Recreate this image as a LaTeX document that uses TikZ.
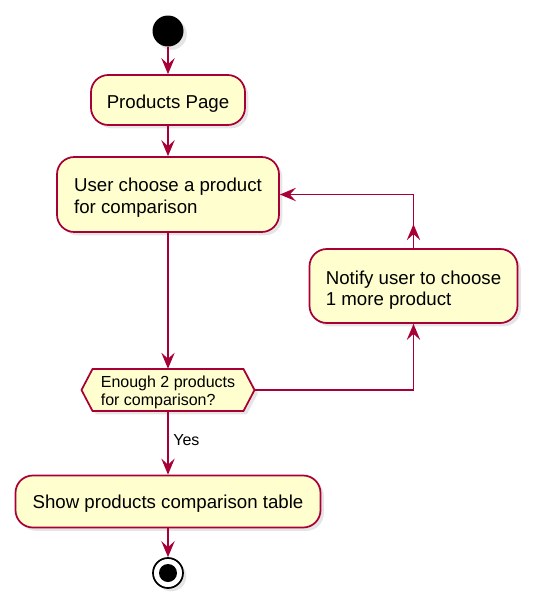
\documentclass[tikz,border=0pt]{standalone}
\usepackage{fontspec}
\setmainfont{Liberation Sans}
\usetikzlibrary{positioning,shadows,arrows.meta}
\definecolor{UMLRed}{HTML}{A80036}
\definecolor{UMLPale}{HTML}{FEFECE}
\newcommand{\lowtext}[2]{\raisebox{-#1}[\height][\depth]{\begin{tabular}{@{}l@{}}#2\end{tabular}}}

\begin{document}
\begin{tikzpicture}[x=0.75pt,y=-0.75pt,>={Stealth[length=12pt,width=10pt,inset=4.5pt]}]
  \tikzstyle{actbox}=[draw=UMLRed,fill=UMLPale,line width=1.3pt,rounded corners=13pt,
    inner sep=0pt,align=left,font=\fontsize{14}{16.3}\selectfont,
    drop shadow={shadow xshift=2.5pt,shadow yshift=-2.5pt,fill=black!20}]
  \tikzstyle{decbox}=[draw=UMLRed,fill=UMLPale,line width=1.3pt,
    drop shadow={shadow xshift=2.5pt,shadow yshift=-2.5pt,fill=black!20}]
  \tikzstyle{dectext}=[inner sep=0pt,minimum width=129.75pt,minimum height=31.5pt,
    align=left,font=\fontsize{12}{13.5}\selectfont]
  \tikzstyle{flow}=[->,draw=UMLRed,line width=1.3pt]
  \useasboundingbox (0,0) rectangle (538,615);

  \node[circle,fill=black,minimum size=23.25pt,inner sep=0pt,
    drop shadow={shadow xshift=2.5pt,shadow yshift=-2.5pt,fill=black!20}] (start) at (168,31) {};
  \node[actbox,minimum width=115.5pt,minimum height=37.5pt] (prod) at (168,100)
    {\lowtext{3pt}{Products Page}};
  \node[actbox,minimum width=166.5pt,minimum height=56.25pt] (user) at (168,194.5)
    {\lowtext{3pt}{User choose a product\\for comparison}};
  \node[actbox,minimum width=156pt,minimum height=55.5pt] (note) at (413.5,286)
    {\lowtext{3.5pt}{Notify user to choose\\1 more product}};
  % decision
  \coordinate (dc) at (168,390);
  \draw[decbox] ([shift={(-86.5,0)}]dc) -- ++(11,-21) -- ++(151,0) -- ++(11,21)
    -- ++(-11,21) -- ++(-151,0) -- cycle;
  \node[dectext] (dec) at (dc) {\lowtext{2.5pt}{Enough 2 products\\for comparison?}};
  \node[actbox,minimum width=228.75pt,minimum height=39pt] (show) at (168,501.5)
    {\lowtext{2pt}{Show products comparison table}};
  \node[circle,draw=black,fill=white,line width=1.3pt,minimum size=22.5pt,inner sep=0pt,
    drop shadow={shadow xshift=2.5pt,shadow yshift=-2.5pt,fill=black!20}] (stop) at (168,573) {};
  \node[circle,fill=black,minimum size=13.5pt,inner sep=0pt] (stopin) at (stop) {};

  \draw[flow] (start) -- (prod);
  \draw[flow] (prod) -- (user);
  \draw[flow] (user) -- (dec.north);
  \draw[flow] (dec.east) -| (note.south);
  \draw[flow] (note.north) |- (user.east);
  \draw[flow] (note.north) -- ++(0,-24);
  \draw[flow] (dec.south) -- node[right,pos=0.45,font=\fontsize{12}{14}\selectfont] {Yes} (show);
  \draw[flow] (show) -- (stop);
\end{tikzpicture}
\end{document}
